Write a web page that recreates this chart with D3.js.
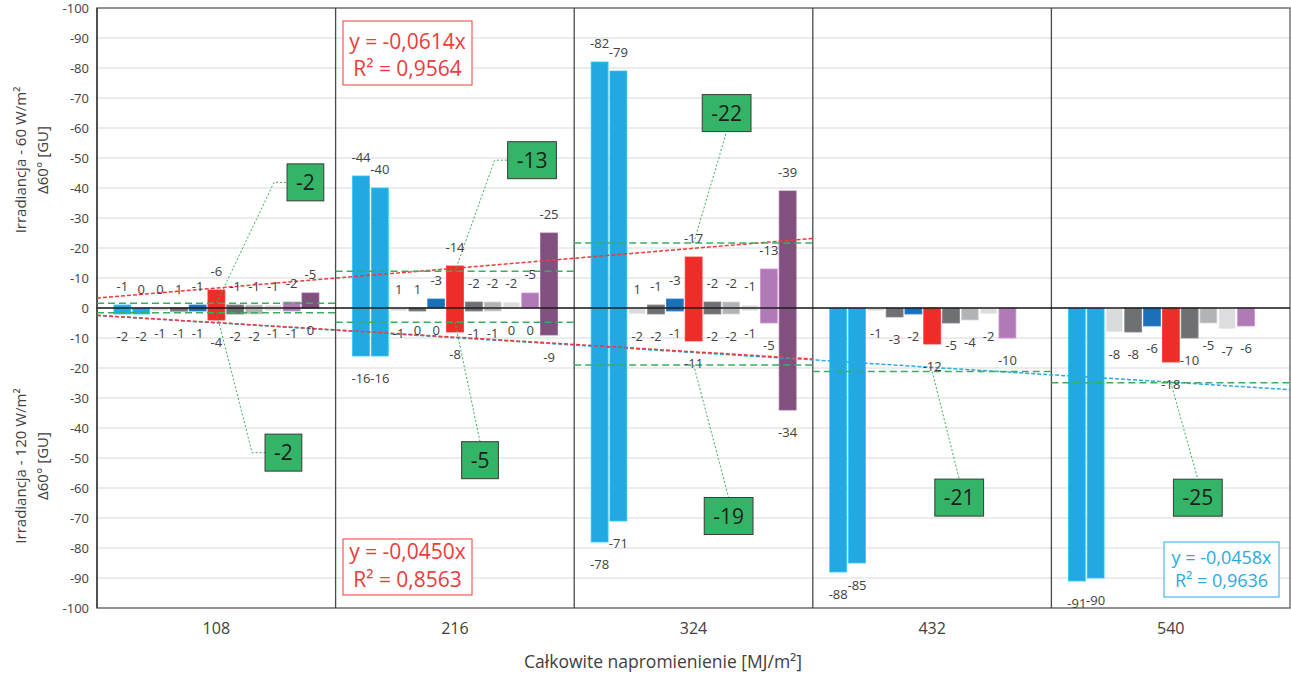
<!DOCTYPE html>
<html lang="pl">
<head>
  <meta charset="UTF-8">
  <title>Δ60° a całkowite napromienienie</title>
  <script src="https://d3js.org/d3.v7.min.js"></script>
  <style>
    body {
      margin: 0;
      background: #fff;
      font-family: "Open Sans", sans-serif;
    }

    svg text {
      fill: #404040;
    }
  </style>
</head>
<body>
  <svg width="1291" height="674"></svg>

  <script>
    const categories = [108, 216, 324, 432, 540];

    const seriesColors = ["#22a9e1", "#22a9e1", "#dadbdd", "#6f7073", "#1d6fb8", "#ee2d29",
                          "#6f7073", "#b2b3b5", "#dcdddf", "#b07ab4", "#80507f"];

    // Δ60° [GU] po irradiancji 60 W/m² (górna połowa), wartości jak na etykietach
    const upper60 = [
      [-1, 0, 0, 1, -1, -6, -1, -1, -1, -2, -5],
      [-44, -40, 1, 1, -3, -14, -2, -2, -2, -5, -25],
      [-82, -79, 1, -1, -3, -17, -2, -2, -1, -13, -39]
    ];

    // Δ60° [GU] po irradiancji 120 W/m² (dolna połowa)
    const lower120 = [
      [-2, -2, -1, -1, -1, -4, -2, -2, -1, -1, 0],
      [-16, -16, -1, 0, 0, -8, -1, -1, 0, 0, -9],
      [-78, -71, -2, -2, -1, -11, -2, -2, -1, -5, -34],
      [-88, -85, -1, -3, -2, -12, -5, -4, -2, -10, null],
      [-91, -90, -8, -8, -6, -18, -10, -5, -7, -6, null]
    ];

    // średnie grup (zielone pola), tak jak wypisane
    const meanLabelUpper = [-2, -13, -22];
    const meanLabelLower = [-2, -5, -19, -21, -25];

    // linie trendu: górna czerwona, dolna czerwona, dolna niebieska
    const trendSlopes = [-0.0614, -0.0450, -0.0458];
    const trendR2 = [0.9564, 0.8563, 0.9636];
    const trendLastCategory = [324, 324, 540];

    const yTicks = d3.range(-100, 101, 10);

    const svg = d3.select("svg"),
          width = +svg.attr("width"),
          height = +svg.attr("height");

    const plot = {left: 97, right: 1290, top: 8, bottom: 608};

    svg.append("rect").attr("width", width).attr("height", height).attr("fill", "#fff");

    const x0 = d3.scaleBand()
      .domain(categories)
      .range([plot.left, plot.right]);

    const x1 = d3.scaleBand()
      .domain(d3.range(seriesColors.length))
      .range([x0.bandwidth() * 0.071, x0.bandwidth() * 0.93])
      .paddingInner(0.1);

    const y = d3.scaleLinear()
      .domain([-100, 100])
      .range([plot.bottom, plot.top]);

    // oś MJ/m² dla linii trendu
    const halfStep = (categories[1] - categories[0]) / 2;
    const xMJ = d3.scaleLinear()
      .domain([categories[0] - halfStep, categories[categories.length - 1] + halfStep])
      .range([plot.left, plot.right]);

    // siatka
    svg.append("g").selectAll("line")
      .data(yTicks)
      .join("line")
        .attr("x1", plot.left).attr("x2", plot.right)
        .attr("y1", d => y(d)).attr("y2", d => y(d))
        .attr("stroke", "#d9d9d9");

    // słupki: górne wartości rysowane w górę (znak odwrócony), dolne w dół
    const bars = [];
    upper60.forEach((row, ci) => row.forEach((v, si) => {
      if (v != null) bars.push({cat: categories[ci], si, label: v, val: -v, up: true});
    }));
    lower120.forEach((row, ci) => row.forEach((v, si) => {
      if (v != null) bars.push({cat: categories[ci], si, label: v, val: v, up: false});
    }));

    svg.append("g").selectAll("rect")
      .data(bars)
      .join("rect")
        .attr("x", d => x0(d.cat) + x1(d.si))
        .attr("width", x1.bandwidth())
        .attr("y", d => y(Math.max(0, d.val)))
        .attr("height", d => Math.abs(y(d.val) - y(0)))
        .attr("fill", d => seriesColors[d.si])
        .attr("stroke", d => d3.color(seriesColors[d.si]).brighter(0.5))
        .attr("stroke-width", 0.8);

    // ramka, separatory grup, linia zera
    svg.append("rect")
      .attr("x", plot.left).attr("y", plot.top)
      .attr("width", plot.right - plot.left).attr("height", plot.bottom - plot.top)
      .attr("fill", "none").attr("stroke", "#6b6b6b").attr("stroke-width", 1.4);

    svg.append("g").selectAll("line")
      .data(categories.slice(1))
      .join("line")
        .attr("x1", d => x0(d)).attr("x2", d => x0(d))
        .attr("y1", plot.top).attr("y2", plot.bottom)
        .attr("stroke", "#4a4a4a").attr("stroke-width", 1.3);

    svg.append("line")
      .attr("x1", plot.left).attr("x2", plot.right)
      .attr("y1", y(0)).attr("y2", y(0))
      .attr("stroke", "#1a1a1a").attr("stroke-width", 1.5);

    svg.append("line")
      .attr("x1", plot.left).attr("x2", plot.left)
      .attr("y1", plot.top).attr("y2", plot.bottom)
      .attr("stroke", "#333").attr("stroke-width", 1.4);

    // linie trendu (kolejność: niebieska, dolna czerwona, górna czerwona)
    const trendColors = ["#ee3b3b", "#ee3b3b", "#29abe2"];
    const trendSign = [-1, 1, 1];
    [2, 1, 0].forEach(i => {
      const m0 = xMJ.domain()[0], m1 = trendLastCategory[i] + halfStep;
      svg.append("line")
        .attr("x1", xMJ(m0)).attr("x2", xMJ(m1))
        .attr("y1", y(trendSign[i] * trendSlopes[i] * m0))
        .attr("y2", y(trendSign[i] * trendSlopes[i] * m1))
        .attr("stroke", trendColors[i])
        .attr("stroke-width", 1.5)
        .attr("stroke-dasharray", "4,2");
    });

    // średnie grup
    const green = "#3aae5e";
    const means = [
      ...upper60.map((r, ci) => ({cat: categories[ci], val: -d3.mean(r), label: meanLabelUpper[ci], up: true})),
      ...lower120.map((r, ci) => ({cat: categories[ci], val: d3.mean(r), label: meanLabelLower[ci], up: false}))
    ];

    svg.append("g").selectAll("line")
      .data(means)
      .join("line")
        .attr("x1", d => x0(d.cat)).attr("x2", d => x0(d.cat) + x0.bandwidth())
        .attr("y1", d => y(d.val)).attr("y2", d => y(d.val))
        .attr("stroke", green).attr("stroke-width", 1.5)
        .attr("stroke-dasharray", "7,4");

    // położenie pól z etykietami średnich względem punktu zaczepienia (px)
    const calloutUpperOffset = [[89, -121], [77, -111], [33, -130]];
    const calloutLowerOffset = [[67, 140], [25, 138], [35, 151], [27, 126], [27, 115]];

    const redIndex = 5;
    means.forEach(d => {
      const ci = categories.indexOf(d.cat);
      const [dx, dy] = d.up ? calloutUpperOffset[ci] : calloutLowerOffset[ci];
      const ax = x0(d.cat) + x1(redIndex) + x1.bandwidth() / 2,
            ay = y(d.val);
      const cx = ax + dx, cy = ay + dy;

      const g = svg.append("g");
      const box = g.append("rect");
      const t = g.append("text")
        .attr("x", cx).attr("y", cy).attr("dy", "0.36em")
        .attr("text-anchor", "middle")
        .style("font-size", "21px").style("fill", "#1e1e1e")
        .text(d.label);
      const bw = t.node().getComputedTextLength() + 18, bh = 37;
      box.attr("x", cx - bw / 2).attr("y", cy - bh / 2)
        .attr("width", bw).attr("height", bh)
        .attr("fill", "#33b466").attr("stroke", "#3a3a3a");

      let pts;
      if (dx > bw / 2 + 15) {
        const left = cx - bw / 2;
        pts = [[ax, ay], [left - 13, cy], [left, cy]];
      } else {
        pts = [[ax, ay], [cx, dy < 0 ? cy + bh / 2 : cy - bh / 2]];
      }
      svg.insert("path", "g:last-child")
        .attr("d", d3.line()(pts))
        .attr("fill", "none")
        .attr("stroke", green).attr("stroke-width", 1)
        .attr("stroke-dasharray", "2,2");
    });

    // etykiety danych
    svg.append("g").selectAll("text")
      .data(bars)
      .join("text")
        .attr("x", d => x0(d.cat) + x1(d.si) + x1.bandwidth() / 2)
        .attr("y", d => d.up ? y(Math.max(0, d.val)) - 19 : y(Math.min(0, d.val)) + 22)
        .attr("dy", "0.35em")
        .attr("text-anchor", "middle")
        .style("font-size", "13px")
        .text(d => d.label);

    // pola z równaniami trendu
    const fmt = v => v.toFixed(4).replace(".", ",");
    const eqBoxes = [
      {i: 0, x: 343, y: 21, w: 129, h: 64, l1: 21, gap: 27, size: 21},
      {i: 1, x: 343, y: 539, w: 129, h: 56, l1: 13, gap: 28, size: 21},
      {i: 2, x: 1164, y: 542, w: 115, h: 55, l1: 16, gap: 23, size: 18}
    ];
    eqBoxes.forEach(b => {
      const c = trendColors[b.i];
      svg.append("rect")
        .attr("x", b.x).attr("y", b.y).attr("width", b.w).attr("height", b.h)
        .attr("fill", "#fff").attr("stroke", c);
      svg.append("text")
        .attr("x", b.x + b.w / 2).attr("y", b.y + b.l1).attr("dy", "0.35em")
        .attr("text-anchor", "middle")
        .style("font-size", b.size + "px").style("fill", c)
        .text(`y = ${fmt(trendSlopes[b.i])}x`);
      svg.append("text")
        .attr("x", b.x + b.w / 2).attr("y", b.y + b.l1 + b.gap).attr("dy", "0.35em")
        .attr("text-anchor", "middle")
        .style("font-size", b.size + "px").style("fill", c)
        .text(`R² = ${fmt(trendR2[b.i])}`);
    });

    // oś Y
    const yAxis = svg.append("g")
      .attr("transform", `translate(${plot.left},0)`)
      .call(d3.axisLeft(y)
        .tickValues(yTicks)
        .tickSize(0)
        .tickPadding(8)
        .tickFormat(d => d === 0 ? "0" : "-" + Math.abs(d)));
    yAxis.select(".domain").remove();
    yAxis.selectAll("text")
      .style("font-size", "13px")
      .style("font-family", "'Open Sans', sans-serif");

    // oś X
    const xAxis = svg.append("g")
      .attr("transform", `translate(0,${plot.bottom})`)
      .call(d3.axisBottom(x0).tickSize(0).tickPadding(15));
    xAxis.select(".domain").remove();
    xAxis.selectAll("text")
      .style("font-size", "16px")
      .style("font-family", "'Open Sans', sans-serif");

    svg.append("text")
      .attr("x", 663)
      .attr("y", 668)
      .attr("text-anchor", "middle")
      .style("font-size", "17.5px")
      .text("Całkowite napromienienie [MJ/m²]");

    // tytuły osi Y (dwie połowy)
    [["Irradiancja - 60 W/m²", 160], ["Irradiancja - 120 W/m²", 466]].forEach(([txt, cy]) => {
      const g = svg.append("g").attr("transform", `translate(26,${cy}) rotate(-90)`);
      g.append("text").attr("text-anchor", "middle").style("font-size", "15px").text(txt);
      g.append("text").attr("y", 22).attr("text-anchor", "middle").style("font-size", "15px").text("Δ60° [GU]");
    });
  </script>
</body>
</html>
